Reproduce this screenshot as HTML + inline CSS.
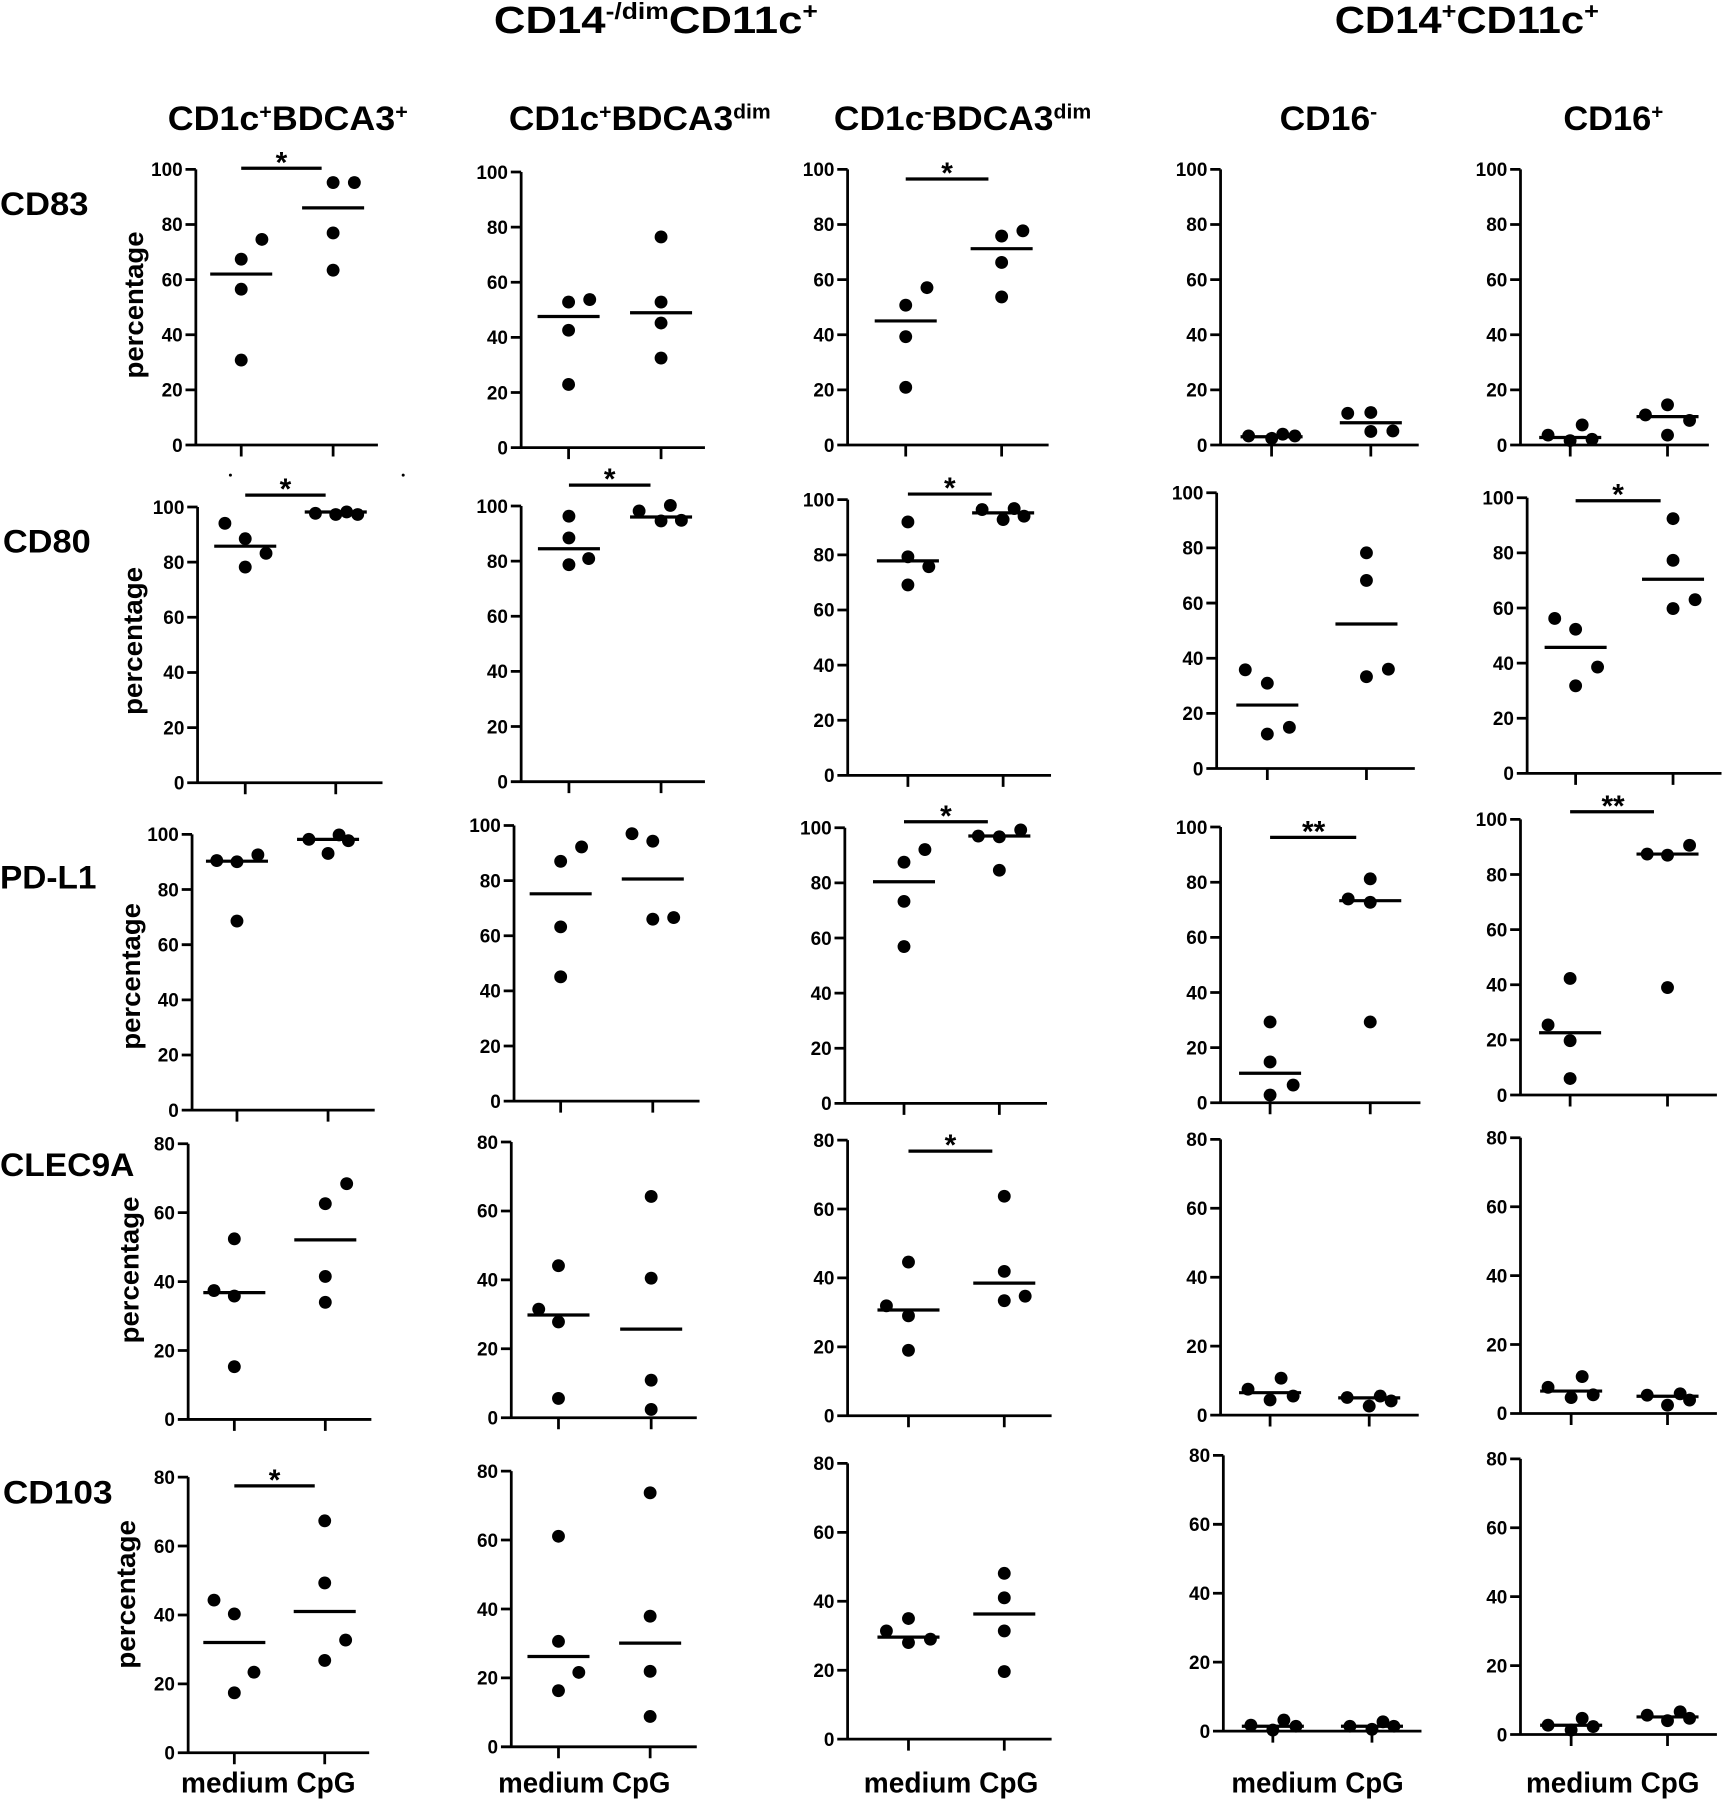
<!DOCTYPE html>
<html><head><meta charset="utf-8"><style>
html,body{margin:0;padding:0;background:#fff}
svg{display:block}
.a{stroke:#000;stroke-width:2.4;fill:none}
.m{stroke:#000;stroke-width:2.8;fill:none}
text{font-family:"Liberation Sans",Arial,sans-serif;font-weight:bold;fill:#000}
.t{font-size:16.5px;text-anchor:end}
.s{font-size:26px;text-anchor:middle}
.h{font-size:33px}
.sub{font-size:30px}
.r{font-size:28px}
.p{font-size:23px;text-anchor:middle}
.b{font-size:25px}
</style></head><body>
<svg width="1723" height="1800" viewBox="0 0 1500 1567" preserveAspectRatio="none" xmlns="http://www.w3.org/2000/svg">
<rect x="0" y="0" width="1500" height="1567" fill="#fff"/>

<!-- headers -->
<text class="h" x="430" y="28.5" textLength="282" lengthAdjust="spacingAndGlyphs">CD14<tspan font-size="20" dy="-12">-/dim</tspan><tspan dy="12">CD11c</tspan><tspan font-size="20" dy="-12">+</tspan></text>
<text class="h" x="1162" y="28.5" textLength="230" lengthAdjust="spacingAndGlyphs">CD14<tspan font-size="20" dy="-12">+</tspan><tspan dy="12">CD11c</tspan><tspan font-size="20" dy="-12">+</tspan></text>

<text class="sub" x="146" y="113" textLength="209" lengthAdjust="spacingAndGlyphs">CD1c<tspan font-size="18" dy="-10">+</tspan><tspan dy="10">BDCA3</tspan><tspan font-size="18" dy="-10">+</tspan></text>
<text class="sub" x="443" y="113" textLength="228" lengthAdjust="spacingAndGlyphs">CD1c<tspan font-size="18" dy="-10">+</tspan><tspan dy="10">BDCA3</tspan><tspan font-size="18" dy="-10">dim</tspan></text>
<text class="sub" x="726" y="113" textLength="224" lengthAdjust="spacingAndGlyphs">CD1c<tspan font-size="18" dy="-10">-</tspan><tspan dy="10">BDCA3</tspan><tspan font-size="18" dy="-10">dim</tspan></text>
<text class="sub" x="1114" y="113" textLength="85" lengthAdjust="spacingAndGlyphs">CD16<tspan font-size="18" dy="-10">-</tspan></text>
<text class="sub" x="1361" y="113" textLength="87" lengthAdjust="spacingAndGlyphs">CD16<tspan font-size="18" dy="-10">+</tspan></text>

<!-- row labels -->
<text class="r" x="0" y="187" textLength="77" lengthAdjust="spacingAndGlyphs">CD83</text>
<text class="r" x="2.5" y="481" textLength="76.5" lengthAdjust="spacingAndGlyphs">CD80</text>
<text class="r" x="0" y="773.5" textLength="84" lengthAdjust="spacingAndGlyphs">PD-L1</text>
<text class="r" x="0" y="1024" textLength="117" lengthAdjust="spacingAndGlyphs">CLEC9A</text>
<text class="r" x="2.5" y="1309" textLength="95.5" lengthAdjust="spacingAndGlyphs">CD103</text>

<!-- percentage labels -->
<text class="p" transform="translate(124.5,265.5) rotate(-90)" textLength="128" lengthAdjust="spacingAndGlyphs">percentage</text>
<text class="p" transform="translate(123.5,558) rotate(-90)" textLength="129" lengthAdjust="spacingAndGlyphs">percentage</text>
<text class="p" transform="translate(122,850) rotate(-90)" textLength="127.5" lengthAdjust="spacingAndGlyphs">percentage</text>
<text class="p" transform="translate(120.5,1105.6) rotate(-90)" textLength="127.7" lengthAdjust="spacingAndGlyphs">percentage</text>
<text class="p" transform="translate(117.5,1388) rotate(-90)" textLength="129.5" lengthAdjust="spacingAndGlyphs">percentage</text>

<!-- bottom labels -->
<text class="b" x="157.6" y="1560.5" textLength="152" lengthAdjust="spacingAndGlyphs">medium CpG</text>
<text class="b" x="433.7" y="1560.5" textLength="150" lengthAdjust="spacingAndGlyphs">medium CpG</text>
<text class="b" x="752" y="1560.5" textLength="152" lengthAdjust="spacingAndGlyphs">medium CpG</text>
<text class="b" x="1072" y="1560.5" textLength="150" lengthAdjust="spacingAndGlyphs">medium CpG</text>
<text class="b" x="1328.5" y="1560.5" textLength="151" lengthAdjust="spacingAndGlyphs">medium CpG</text>

<!-- stray marks -->
<circle cx="200.6" cy="413.6" r="1.3"/>
<circle cx="351" cy="413.6" r="1.3"/>

<!-- ===== ROW 1 ===== -->
<g transform="translate(170.5,387.4)">
<path class="a" d="M0,0V-240M-9,0H158.5M-9,-48H0M-9,-96H0M-9,-144H0M-9,-192H0M-9,-240H0M39.5,0v10M119.5,0v10"/>
<text class="t" x="-11.5" y="5.9">0</text><text class="t" x="-11.5" y="-42.1">20</text><text class="t" x="-11.5" y="-90.1">40</text><text class="t" x="-11.5" y="-138.1">60</text><text class="t" x="-11.5" y="-186.1">80</text><text class="t" x="-11.5" y="-234.1">100</text>
<circle cx="39.5" cy="-161.8" r="5.6"/><circle cx="39.5" cy="-135.6" r="5.6"/><circle cx="39.5" cy="-73.9" r="5.6"/><circle cx="57.5" cy="-179" r="5.6"/>
<circle cx="119.5" cy="-228.5" r="5.6"/><circle cx="138" cy="-228.5" r="5.6"/><circle cx="119.5" cy="-184.6" r="5.6"/><circle cx="119.5" cy="-152.2" r="5.6"/>
<path class="m" d="M12.5,-148.8h54M92.5,-206.4h54M39.5,-240.9h70"/>
<text class="s" x="74.5" y="-237.4">*</text>
</g>
<g transform="translate(453.7,389.7)">
<path class="a" d="M0,0V-240M-9,0H160M-9,-48H0M-9,-96H0M-9,-144H0M-9,-192H0M-9,-240H0M41.3,0v10M121.8,0v10"/>
<text class="t" x="-11.5" y="5.9">0</text><text class="t" x="-11.5" y="-42.1">20</text><text class="t" x="-11.5" y="-90.1">40</text><text class="t" x="-11.5" y="-138.1">60</text><text class="t" x="-11.5" y="-186.1">80</text><text class="t" x="-11.5" y="-234.1">100</text>
<circle cx="41.3" cy="-126.7" r="5.6"/><circle cx="41.3" cy="-102.2" r="5.6"/><circle cx="41.3" cy="-55" r="5.6"/><circle cx="59.7" cy="-128.9" r="5.6"/>
<circle cx="121.8" cy="-183.4" r="5.6"/><circle cx="121.8" cy="-126.7" r="5.6"/><circle cx="121.8" cy="-108.5" r="5.6"/><circle cx="121.8" cy="-78" r="5.6"/>
<path class="m" d="M14.3,-114.2h54M94.8,-117.4h54"/>
</g>
<g transform="translate(737.9,387.4)">
<path class="a" d="M0,0V-240M-9,0H175M-9,-48H0M-9,-96H0M-9,-144H0M-9,-192H0M-9,-240H0M50.6,0v10M134.1,0v10"/>
<text class="t" x="-11.5" y="5.9">0</text><text class="t" x="-11.5" y="-42.1">20</text><text class="t" x="-11.5" y="-90.1">40</text><text class="t" x="-11.5" y="-138.1">60</text><text class="t" x="-11.5" y="-186.1">80</text><text class="t" x="-11.5" y="-234.1">100</text>
<circle cx="50.6" cy="-121.7" r="5.6"/><circle cx="50.6" cy="-94.3" r="5.6"/><circle cx="50.6" cy="-50.2" r="5.6"/><circle cx="69.1" cy="-137" r="5.6"/>
<circle cx="134.1" cy="-181.9" r="5.6"/><circle cx="134.1" cy="-158.9" r="5.6"/><circle cx="134.1" cy="-128.9" r="5.6"/><circle cx="152.6" cy="-186.5" r="5.6"/>
<path class="m" d="M23.6,-108h54M107.1,-170.9h54M50.6,-231.6h72"/>
<text class="s" x="86.6" y="-228.1">*</text>
</g>
<g transform="translate(1062.6,387.4)">
<path class="a" d="M0,0V-240M-9,0H172.5M-9,-48H0M-9,-96H0M-9,-144H0M-9,-192H0M-9,-240H0M44.4,0v10M130.8,0v10"/>
<text class="t" x="-11.5" y="5.9">0</text><text class="t" x="-11.5" y="-42.1">20</text><text class="t" x="-11.5" y="-90.1">40</text><text class="t" x="-11.5" y="-138.1">60</text><text class="t" x="-11.5" y="-186.1">80</text><text class="t" x="-11.5" y="-234.1">100</text>
<circle cx="24.4" cy="-7.9" r="5.6"/><circle cx="44.5" cy="-5.8" r="5.6"/><circle cx="54.1" cy="-9.4" r="5.6"/><circle cx="64.7" cy="-7.9" r="5.6"/>
<circle cx="110.7" cy="-27.6" r="5.6"/><circle cx="130.8" cy="-28.3" r="5.6"/><circle cx="130.8" cy="-11.8" r="5.6"/><circle cx="150" cy="-12.2" r="5.6"/>
<path class="m" d="M17.4,-7.2h54M103.8,-19.4h54"/>
</g>
<g transform="translate(1323.7,387.4)">
<path class="a" d="M0,0V-240M-9,0H164M-9,-48H0M-9,-96H0M-9,-144H0M-9,-192H0M-9,-240H0M43.3,0v10M128,0v10"/>
<text class="t" x="-11.5" y="5.9">0</text><text class="t" x="-11.5" y="-42.1">20</text><text class="t" x="-11.5" y="-90.1">40</text><text class="t" x="-11.5" y="-138.1">60</text><text class="t" x="-11.5" y="-186.1">80</text><text class="t" x="-11.5" y="-234.1">100</text>
<circle cx="24" cy="-8.6" r="5.6"/><circle cx="43.2" cy="-3.8" r="5.6"/><circle cx="53.7" cy="-17.5" r="5.6"/><circle cx="62.3" cy="-5" r="5.6"/>
<circle cx="108.8" cy="-26.2" r="5.6"/><circle cx="128" cy="-35" r="5.6"/><circle cx="128" cy="-8.6" r="5.6"/><circle cx="147.2" cy="-21.4" r="5.6"/>
<path class="m" d="M16.3,-6.5h54M101,-24.7h54"/>
</g>

<!-- ===== ROW 2 ===== -->
<g transform="translate(172,681.4)">
<path class="a" d="M0,0V-240M-9,0H161M-9,-48H0M-9,-96H0M-9,-144H0M-9,-192H0M-9,-240H0M41.5,0v10M120.3,0v10"/>
<text class="t" x="-11.5" y="5.9">0</text><text class="t" x="-11.5" y="-42.1">20</text><text class="t" x="-11.5" y="-90.1">40</text><text class="t" x="-11.5" y="-138.1">60</text><text class="t" x="-11.5" y="-186.1">80</text><text class="t" x="-11.5" y="-234.1">100</text>
<circle cx="23.8" cy="-225.8" r="5.6"/><circle cx="41.5" cy="-212.4" r="5.6"/><circle cx="41.5" cy="-187.7" r="5.6"/><circle cx="59.6" cy="-199.7" r="5.6"/>
<circle cx="102.6" cy="-234.5" r="5.6"/><circle cx="120.3" cy="-233.5" r="5.6"/><circle cx="129.8" cy="-235.7" r="5.6"/><circle cx="139.4" cy="-233.5" r="5.6"/>
<path class="m" d="M14.5,-205.9h54M93.3,-235.7h54M41.5,-250.4h70"/>
<text class="s" x="76.5" y="-246.9">*</text>
</g>
<g transform="translate(453.7,680.5)">
<path class="a" d="M0,0V-240M-9,0H160M-9,-48H0M-9,-96H0M-9,-144H0M-9,-192H0M-9,-240H0M41.6,0v10M121.8,0v10"/>
<text class="t" x="-11.5" y="5.9">0</text><text class="t" x="-11.5" y="-42.1">20</text><text class="t" x="-11.5" y="-90.1">40</text><text class="t" x="-11.5" y="-138.1">60</text><text class="t" x="-11.5" y="-186.1">80</text><text class="t" x="-11.5" y="-234.1">100</text>
<circle cx="41.6" cy="-231.1" r="5.6"/><circle cx="41.6" cy="-212.2" r="5.6"/><circle cx="41.6" cy="-188.9" r="5.6"/><circle cx="58.8" cy="-194.2" r="5.6"/>
<circle cx="102.7" cy="-235.7" r="5.6"/><circle cx="121.8" cy="-227" r="5.6"/><circle cx="129.9" cy="-240.5" r="5.6"/><circle cx="139.5" cy="-227.5" r="5.6"/>
<path class="m" d="M14.6,-202.8h54M94.8,-230.4h54M41.6,-258.2h71"/>
<text class="s" x="77.1" y="-254.7">*</text>
</g>
<g transform="translate(738,675)">
<path class="a" d="M0,0V-240M-9,0H177M-9,-48H0M-9,-96H0M-9,-144H0M-9,-192H0M-9,-240H0M52.4,0v10M135.3,0v10"/>
<text class="t" x="-11.5" y="5.9">0</text><text class="t" x="-11.5" y="-42.1">20</text><text class="t" x="-11.5" y="-90.1">40</text><text class="t" x="-11.5" y="-138.1">60</text><text class="t" x="-11.5" y="-186.1">80</text><text class="t" x="-11.5" y="-234.1">100</text>
<circle cx="52.4" cy="-220.6" r="5.6"/><circle cx="52.4" cy="-190.3" r="5.6"/><circle cx="52.4" cy="-165.8" r="5.6"/><circle cx="70.6" cy="-181.7" r="5.6"/>
<circle cx="117" cy="-231.4" r="5.6"/><circle cx="135.3" cy="-222.7" r="5.6"/><circle cx="144.9" cy="-232.3" r="5.6"/><circle cx="153.5" cy="-225.6" r="5.6"/>
<path class="m" d="M25.4,-186.7h54M108.3,-228.5h54M52.4,-244.9h73"/>
<text class="s" x="88.9" y="-241.4">*</text>
</g>
<g transform="translate(1059.2,669)">
<path class="a" d="M0,0V-240M-9,0H172.5M-9,-48H0M-9,-96H0M-9,-144H0M-9,-192H0M-9,-240H0M44.1,0v10M130.4,0v10"/>
<text class="t" x="-11.5" y="5.9">0</text><text class="t" x="-11.5" y="-42.1">20</text><text class="t" x="-11.5" y="-90.1">40</text><text class="t" x="-11.5" y="-138.1">60</text><text class="t" x="-11.5" y="-186.1">80</text><text class="t" x="-11.5" y="-234.1">100</text>
<circle cx="24.9" cy="-85.9" r="5.6"/><circle cx="44.1" cy="-74.2" r="5.6"/><circle cx="44.1" cy="-30" r="5.6"/><circle cx="63.3" cy="-35.8" r="5.6"/>
<circle cx="130.4" cy="-187.7" r="5.6"/><circle cx="130.4" cy="-163.7" r="5.6"/><circle cx="130.4" cy="-79.9" r="5.6"/><circle cx="149.5" cy="-86.4" r="5.6"/>
<path class="m" d="M17.1,-55.2h54M103.4,-125.8h54"/>
</g>
<g transform="translate(1329.5,673.3)">
<path class="a" d="M0,0V-240M-9,0H169.2M-9,-48H0M-9,-96H0M-9,-144H0M-9,-192H0M-9,-240H0M42.2,0v10M127,0v10"/>
<text class="t" x="-11.5" y="5.9">0</text><text class="t" x="-11.5" y="-42.1">20</text><text class="t" x="-11.5" y="-90.1">40</text><text class="t" x="-11.5" y="-138.1">60</text><text class="t" x="-11.5" y="-186.1">80</text><text class="t" x="-11.5" y="-234.1">100</text>
<circle cx="24" cy="-134.9" r="5.6"/><circle cx="42.2" cy="-125.5" r="5.6"/><circle cx="42.2" cy="-76.3" r="5.6"/><circle cx="61.3" cy="-92.6" r="5.6"/>
<circle cx="127" cy="-221.8" r="5.6"/><circle cx="127" cy="-185.5" r="5.6"/><circle cx="127" cy="-143.5" r="5.6"/><circle cx="146.2" cy="-151.2" r="5.6"/>
<path class="m" d="M15.2,-109.7h54M100,-169h54M42.2,-237.4h74"/>
<text class="s" x="79.2" y="-233.9">*</text>
</g>

<!-- ===== ROW 3 ===== -->
<g transform="translate(167.2,966.4)">
<path class="a" d="M0,0V-240M-9,0H159M-9,-48H0M-9,-96H0M-9,-144H0M-9,-192H0M-9,-240H0M39.1,0v10M118.4,0v10"/>
<text class="t" x="-11.5" y="5.9">0</text><text class="t" x="-11.5" y="-42.1">20</text><text class="t" x="-11.5" y="-90.1">40</text><text class="t" x="-11.5" y="-138.1">60</text><text class="t" x="-11.5" y="-186.1">80</text><text class="t" x="-11.5" y="-234.1">100</text>
<circle cx="21.5" cy="-217.2" r="5.6"/><circle cx="39.1" cy="-216.2" r="5.6"/><circle cx="39.1" cy="-164.6" r="5.6"/><circle cx="57.3" cy="-222.2" r="5.6"/>
<circle cx="101.7" cy="-235.7" r="5.6"/><circle cx="118.4" cy="-223.4" r="5.6"/><circle cx="128" cy="-239.5" r="5.6"/><circle cx="136.1" cy="-234.5" r="5.6"/>
<path class="m" d="M12.1,-216.7h54M91.4,-235.7h54"/>
</g>
<g transform="translate(447.5,958.6)">
<path class="a" d="M0,0V-240M-9,0H161.5M-9,-48H0M-9,-96H0M-9,-144H0M-9,-192H0M-9,-240H0M40.6,0v10M120.8,0v10"/>
<text class="t" x="-11.5" y="5.9">0</text><text class="t" x="-11.5" y="-42.1">20</text><text class="t" x="-11.5" y="-90.1">40</text><text class="t" x="-11.5" y="-138.1">60</text><text class="t" x="-11.5" y="-186.1">80</text><text class="t" x="-11.5" y="-234.1">100</text>
<circle cx="40.6" cy="-208.8" r="5.6"/><circle cx="40.6" cy="-151.7" r="5.6"/><circle cx="40.6" cy="-108.2" r="5.6"/><circle cx="58.8" cy="-221.3" r="5.6"/>
<circle cx="102.7" cy="-232.8" r="5.6"/><circle cx="120.8" cy="-226.3" r="5.6"/><circle cx="120.8" cy="-158.4" r="5.6"/><circle cx="139" cy="-159.8" r="5.6"/>
<path class="m" d="M13.6,-180.5h54M93.8,-193.4h54"/>
</g>
<g transform="translate(735.5,960.6)">
<path class="a" d="M0,0V-240M-9,0H176M-9,-48H0M-9,-96H0M-9,-144H0M-9,-192H0M-9,-240H0M51.5,0v10M134.5,0v10"/>
<text class="t" x="-11.5" y="5.9">0</text><text class="t" x="-11.5" y="-42.1">20</text><text class="t" x="-11.5" y="-90.1">40</text><text class="t" x="-11.5" y="-138.1">60</text><text class="t" x="-11.5" y="-186.1">80</text><text class="t" x="-11.5" y="-234.1">100</text>
<circle cx="51.5" cy="-210" r="5.6"/><circle cx="51.5" cy="-175.9" r="5.6"/><circle cx="51.5" cy="-136.6" r="5.6"/><circle cx="69.7" cy="-221" r="5.6"/>
<circle cx="116.2" cy="-232.8" r="5.6"/><circle cx="134.5" cy="-232.1" r="5.6"/><circle cx="134.5" cy="-203" r="5.6"/><circle cx="153.1" cy="-238.1" r="5.6"/>
<path class="m" d="M24.5,-193h54M107.5,-232.8h54M51.5,-245.2h73"/>
<text class="s" x="88" y="-241.7">*</text>
</g>
<g transform="translate(1062.6,960)">
<path class="a" d="M0,0V-240M-9,0H174M-9,-48H0M-9,-96H0M-9,-144H0M-9,-192H0M-9,-240H0M43.1,0v10M130.3,0v10"/>
<text class="t" x="-11.5" y="5.9">0</text><text class="t" x="-11.5" y="-42.1">20</text><text class="t" x="-11.5" y="-90.1">40</text><text class="t" x="-11.5" y="-138.1">60</text><text class="t" x="-11.5" y="-186.1">80</text><text class="t" x="-11.5" y="-234.1">100</text>
<circle cx="43.1" cy="-70.3" r="5.6"/><circle cx="43.1" cy="-35.5" r="5.6"/><circle cx="43.1" cy="-6.7" r="5.6"/><circle cx="63.2" cy="-15.4" r="5.6"/>
<circle cx="111.1" cy="-177.4" r="5.6"/><circle cx="130.3" cy="-194.9" r="5.6"/><circle cx="130.3" cy="-174.5" r="5.6"/><circle cx="130.3" cy="-70.3" r="5.6"/>
<path class="m" d="M16.1,-25.7h54M103.3,-175.9h54M43.1,-231h75"/>
<text class="s" x="81" y="-227.5">**</text>
</g>
<g transform="translate(1323.7,953.3)">
<path class="a" d="M0,0V-240M-9,0H171M-9,-48H0M-9,-96H0M-9,-144H0M-9,-192H0M-9,-240H0M43.2,0v10M128,0v10"/>
<text class="t" x="-11.5" y="5.9">0</text><text class="t" x="-11.5" y="-42.1">20</text><text class="t" x="-11.5" y="-90.1">40</text><text class="t" x="-11.5" y="-138.1">60</text><text class="t" x="-11.5" y="-186.1">80</text><text class="t" x="-11.5" y="-234.1">100</text>
<circle cx="24" cy="-61" r="5.6"/><circle cx="43.2" cy="-101.5" r="5.6"/><circle cx="43.2" cy="-47.3" r="5.6"/><circle cx="43.2" cy="-14.4" r="5.6"/>
<circle cx="110.3" cy="-209.8" r="5.6"/><circle cx="128" cy="-208.8" r="5.6"/><circle cx="128" cy="-93.6" r="5.6"/><circle cx="147.2" cy="-217.4" r="5.6"/>
<path class="m" d="M16.2,-54.2h54M101,-209.8h54M43.2,-246.6h73"/>
<text class="s" x="80.6" y="-243.1">**</text>
</g>

<!-- ===== ROW 4 ===== -->
<g transform="translate(163.8,1235.7)">
<path class="a" d="M0,0V-240M-9,0H159.5M-9,-60H0M-9,-120H0M-9,-180H0M-9,-240H0M40.2,0v10M119.4,0v10"/>
<text class="t" x="-11.5" y="5.9">0</text><text class="t" x="-11.5" y="-54.1">20</text><text class="t" x="-11.5" y="-114.1">40</text><text class="t" x="-11.5" y="-174.1">60</text><text class="t" x="-11.5" y="-234.1">80</text>
<circle cx="22.5" cy="-112.2" r="5.6"/><circle cx="40.2" cy="-157.2" r="5.6"/><circle cx="40.2" cy="-107.4" r="5.6"/><circle cx="40.2" cy="-45.9" r="5.6"/>
<circle cx="119.4" cy="-187.8" r="5.6"/><circle cx="119.4" cy="-124.5" r="5.6"/><circle cx="119.4" cy="-102" r="5.6"/><circle cx="138" cy="-205.2" r="5.6"/>
<path class="m" d="M13.2,-110.4h54M92.4,-156.3h54"/>
</g>
<g transform="translate(445.1,1234.2)">
<path class="a" d="M0,0V-240M-9,0H161.5M-9,-60H0M-9,-120H0M-9,-180H0M-9,-240H0M41.1,0v10M121.8,0v10"/>
<text class="t" x="-11.5" y="5.9">0</text><text class="t" x="-11.5" y="-54.1">20</text><text class="t" x="-11.5" y="-114.1">40</text><text class="t" x="-11.5" y="-174.1">60</text><text class="t" x="-11.5" y="-234.1">80</text>
<circle cx="23.9" cy="-94.5" r="5.6"/><circle cx="41.1" cy="-132.3" r="5.6"/><circle cx="41.1" cy="-83.4" r="5.6"/><circle cx="41.1" cy="-16.8" r="5.6"/>
<circle cx="121.8" cy="-192.6" r="5.6"/><circle cx="121.8" cy="-121.5" r="5.6"/><circle cx="121.8" cy="-32.7" r="5.6"/><circle cx="121.8" cy="-7.2" r="5.6"/>
<path class="m" d="M14.1,-89.4h54M94.8,-77.1h54"/>
</g>
<g transform="translate(737.9,1232.5)">
<path class="a" d="M0,0V-240M-9,0H177.6M-9,-60H0M-9,-120H0M-9,-180H0M-9,-240H0M53,0v10M136.4,0v10"/>
<text class="t" x="-11.5" y="5.9">0</text><text class="t" x="-11.5" y="-54.1">20</text><text class="t" x="-11.5" y="-114.1">40</text><text class="t" x="-11.5" y="-174.1">60</text><text class="t" x="-11.5" y="-234.1">80</text>
<circle cx="33.8" cy="-95.7" r="5.6"/><circle cx="53" cy="-133.8" r="5.6"/><circle cx="53" cy="-87" r="5.6"/><circle cx="53" cy="-57" r="5.6"/>
<circle cx="136.4" cy="-191.1" r="5.6"/><circle cx="136.4" cy="-125.7" r="5.6"/><circle cx="136.4" cy="-100.2" r="5.6"/><circle cx="154.6" cy="-104.1" r="5.6"/>
<path class="m" d="M26,-92.1h54M109.4,-115.5h54M53,-230.4h73"/>
<text class="s" x="89.5" y="-226.9">*</text>
</g>
<g transform="translate(1062.6,1231.9)">
<path class="a" d="M0,0V-240M-9,0H172.5M-9,-60H0M-9,-120H0M-9,-180H0M-9,-240H0M43.1,0v10M129.4,0v10"/>
<text class="t" x="-11.5" y="5.9">0</text><text class="t" x="-11.5" y="-54.1">20</text><text class="t" x="-11.5" y="-114.1">40</text><text class="t" x="-11.5" y="-174.1">60</text><text class="t" x="-11.5" y="-234.1">80</text>
<circle cx="23.9" cy="-22.5" r="5.6"/><circle cx="43.1" cy="-13.2" r="5.6"/><circle cx="52.7" cy="-32.1" r="5.6"/><circle cx="63.2" cy="-16.5" r="5.6"/>
<circle cx="110.2" cy="-15.3" r="5.6"/><circle cx="129.4" cy="-7.8" r="5.6"/><circle cx="139" cy="-16.5" r="5.6"/><circle cx="148.5" cy="-12.3" r="5.6"/>
<path class="m" d="M16.1,-19.5h54M102.4,-15h54"/>
</g>
<g transform="translate(1323.7,1230.5)">
<path class="a" d="M0,0V-240M-9,0H171M-9,-60H0M-9,-120H0M-9,-180H0M-9,-240H0M44.1,0v10M128,0v10"/>
<text class="t" x="-11.5" y="5.9">0</text><text class="t" x="-11.5" y="-54.1">20</text><text class="t" x="-11.5" y="-114.1">40</text><text class="t" x="-11.5" y="-174.1">60</text><text class="t" x="-11.5" y="-234.1">80</text>
<circle cx="24" cy="-22.8" r="5.6"/><circle cx="44.1" cy="-13.8" r="5.6"/><circle cx="53.7" cy="-32.1" r="5.6"/><circle cx="63.3" cy="-16.2" r="5.6"/>
<circle cx="110.3" cy="-15.9" r="5.6"/><circle cx="128" cy="-7.2" r="5.6"/><circle cx="139" cy="-17.1" r="5.6"/><circle cx="147.2" cy="-11.7" r="5.6"/>
<path class="m" d="M17.1,-19.5h54M101,-15h54"/>
</g>

<!-- ===== ROW 5 ===== -->
<g transform="translate(163.8,1525.9)">
<path class="a" d="M0,0V-240M-9,0H157.6M-9,-60H0M-9,-120H0M-9,-180H0M-9,-240H0M40.2,0v10M118.9,0v10"/>
<text class="t" x="-11.5" y="5.9">0</text><text class="t" x="-11.5" y="-54.1">20</text><text class="t" x="-11.5" y="-114.1">40</text><text class="t" x="-11.5" y="-174.1">60</text><text class="t" x="-11.5" y="-234.1">80</text>
<circle cx="22.5" cy="-132.9" r="5.6"/><circle cx="40.2" cy="-120.9" r="5.6"/><circle cx="40.2" cy="-52.2" r="5.6"/><circle cx="57.3" cy="-70.2" r="5.6"/>
<circle cx="118.9" cy="-201.9" r="5.6"/><circle cx="118.9" cy="-147.9" r="5.6"/><circle cx="118.9" cy="-80.4" r="5.6"/><circle cx="137.1" cy="-98.1" r="5.6"/>
<path class="m" d="M13.2,-96h54M91.9,-123h54M40.2,-232.4h70"/>
<text class="s" x="75.2" y="-228.9">*</text>
</g>
<g transform="translate(445.1,1520.7)">
<path class="a" d="M0,0V-240M-9,0H161.5M-9,-60H0M-9,-120H0M-9,-180H0M-9,-240H0M41.1,0v10M120.9,0v10"/>
<text class="t" x="-11.5" y="5.9">0</text><text class="t" x="-11.5" y="-54.1">20</text><text class="t" x="-11.5" y="-114.1">40</text><text class="t" x="-11.5" y="-174.1">60</text><text class="t" x="-11.5" y="-234.1">80</text>
<circle cx="41.1" cy="-183.3" r="5.6"/><circle cx="41.1" cy="-91.8" r="5.6"/><circle cx="41.1" cy="-48.9" r="5.6"/><circle cx="58.8" cy="-64.8" r="5.6"/>
<circle cx="120.9" cy="-221.1" r="5.6"/><circle cx="120.9" cy="-113.7" r="5.6"/><circle cx="120.9" cy="-65.7" r="5.6"/><circle cx="120.9" cy="-26.4" r="5.6"/>
<path class="m" d="M14.1,-78.6h54M93.9,-90.3h54"/>
</g>
<g transform="translate(737.9,1514)">
<path class="a" d="M0,0V-240M-9,0H177.6M-9,-60H0M-9,-120H0M-9,-180H0M-9,-240H0M53,0v10M136.4,0v10"/>
<text class="t" x="-11.5" y="5.9">0</text><text class="t" x="-11.5" y="-54.1">20</text><text class="t" x="-11.5" y="-114.1">40</text><text class="t" x="-11.5" y="-174.1">60</text><text class="t" x="-11.5" y="-234.1">80</text>
<circle cx="33.8" cy="-94.2" r="5.6"/><circle cx="53" cy="-105" r="5.6"/><circle cx="53" cy="-84" r="5.6"/><circle cx="72.1" cy="-87" r="5.6"/>
<circle cx="136.4" cy="-144.3" r="5.6"/><circle cx="136.4" cy="-123" r="5.6"/><circle cx="136.4" cy="-94.2" r="5.6"/><circle cx="136.4" cy="-58.8" r="5.6"/>
<path class="m" d="M26,-88.8h54M109.4,-108.9h54"/>
</g>
<g transform="translate(1065,1507)">
<path class="a" d="M0,0V-240M-9,0H172.5M-9,-60H0M-9,-120H0M-9,-180H0M-9,-240H0M43.1,0v10M129.4,0v10"/>
<text class="t" x="-11.5" y="5.9">0</text><text class="t" x="-11.5" y="-54.1">20</text><text class="t" x="-11.5" y="-114.1">40</text><text class="t" x="-11.5" y="-174.1">60</text><text class="t" x="-11.5" y="-234.1">80</text>
<circle cx="24" cy="-5.1" r="5.6"/><circle cx="43.1" cy="-0.9" r="5.6"/><circle cx="52.7" cy="-9.6" r="5.6"/><circle cx="63.2" cy="-4.2" r="5.6"/>
<circle cx="110.2" cy="-4.2" r="5.6"/><circle cx="129.4" cy="-1.5" r="5.6"/><circle cx="139" cy="-8.1" r="5.6"/><circle cx="148.5" cy="-4.2" r="5.6"/>
<path class="m" d="M16.1,-4.2h54M102.4,-4.2h54"/>
</g>
<g transform="translate(1323.7,1510)">
<path class="a" d="M0,0V-240M-9,0H171M-9,-60H0M-9,-120H0M-9,-180H0M-9,-240H0M44.1,0v10M128,0v10"/>
<text class="t" x="-11.5" y="5.9">0</text><text class="t" x="-11.5" y="-54.1">20</text><text class="t" x="-11.5" y="-114.1">40</text><text class="t" x="-11.5" y="-174.1">60</text><text class="t" x="-11.5" y="-234.1">80</text>
<circle cx="24" cy="-8.1" r="5.6"/><circle cx="44.1" cy="-3.9" r="5.6"/><circle cx="53.7" cy="-14.1" r="5.6"/><circle cx="63.3" cy="-6.9" r="5.6"/>
<circle cx="110.3" cy="-16.8" r="5.6"/><circle cx="128" cy="-12" r="5.6"/><circle cx="139" cy="-19.8" r="5.6"/><circle cx="147.2" cy="-14.1" r="5.6"/>
<path class="m" d="M17.1,-8.1h54M101,-15.3h54"/>
</g>
</svg>
</body></html>
